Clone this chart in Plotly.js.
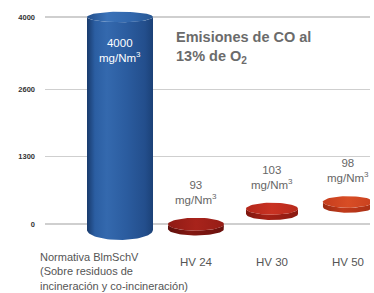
<!DOCTYPE html>
<html>
<head>
<meta charset="utf-8">
<script src="https://cdn.plot.ly/plotly-3.0.1.min.js"></script>
<style>html,body{margin:0;padding:0;background:#fff;}#chart{width:374px;height:293px;}</style>
</head>
<body>
<div id="chart"></div>
<script>
// ---- data ----
const categories = ['Normativa BlmSchV<br>(Sobre residuos de<br>incineración y co-incineración)', 'HV 24', 'HV 30', 'HV 50'];
const values = [4000, 93, 103, 98];
const valueLabels = ['4000', '93', '103', '98'];
const unitLabel = 'mg/Nm<sup>3</sup>';
const yTickVals = [0, 1300, 2600, 4000];
const yTickText = ['0', '1300', '2600', '4000'];
const chartTitle = '<b>Emisiones de CO al<br>13% de O<sub>2</sub></b>';

// ---- layout geometry (styles) ----
const W = 374, H = 293;
const M = {l: 45, r: 4, t: 6, b: 40};
const xRange = [-0.987, 3.29];
const yRange = [-560, 4212];
const pxPerX = (W - M.l - M.r) / (xRange[1] - xRange[0]);
const pxPerY = (H - M.t - M.b) / (yRange[1] - yRange[0]);
const halfWidthPx = [33, 28, 26, 25];
const capRatio = [0.16, 0.23, 0.23, 0.23];
const bottomRatio = [0.3, 0.23, 0.23, 0.23];
const floorLiftPx = [0, -5, 10, 17];   // perspective lift of the floor per category
const baseDropPx = [6, 0, 0, 0];       // perspective drop of the cylinder foot
const sideScales = [
  [[0,'#183a6c'],[0.12,'#2b5ea2'],[0.3,'#3469ae'],[0.6,'#2b5c9f'],[0.88,'#234e8c'],[1,'#1b4177']],
  [[0,'#5e0f0b'],[0.4,'#841812'],[1,'#6a110d']],
  [[0,'#7e170f'],[0.4,'#a62116'],[1,'#8a1a11']],
  [[0,'#9a2b12'],[0.4,'#c13a1b'],[1,'#a93015']]
];
const capScales = [
  [[0,'#234f8c'],[0.3,'#3a72b8'],[0.7,'#3166ab'],[1,'#275793']],
  [[0,'#8f1b15'],[0.5,'#a8231b'],[1,'#961d16']],
  [[0,'#b3271b'],[0.5,'#c93222'],[1,'#b82a1c']],
  [[0,'#c63d1d'],[0.5,'#d84d25'],[1,'#c9411f']]
];
const FONT = 'Liberation Sans, Arial, sans-serif';

function ellipsePts(cx, cy, a, b, t0, t1, n) {
  const xs = [], ys = [];
  for (let k = 0; k <= n; k++) {
    const t = t0 + (t1 - t0) * k / n;
    xs.push(cx + a * Math.cos(t));
    ys.push(cy + b * Math.sin(t));
  }
  return [xs, ys];
}

const traces = [];
const annotations = [];
values.forEach((v, i) => {
  const a = halfWidthPx[i] / pxPerX;
  const bTop = halfWidthPx[i] * capRatio[i] / pxPerY;
  const bBot = halfWidthPx[i] * bottomRatio[i] / pxPerY;
  const lift = floorLiftPx[i] / pxPerY;
  const y0 = 0 + lift - baseDropPx[i] / pxPerY, y1 = v + lift;
  // side body
  const top = ellipsePts(i, y1, a, bTop, Math.PI, 2 * Math.PI, 40);
  const bot = ellipsePts(i, y0, a, bBot, 2 * Math.PI, Math.PI, 40);
  const bx = [i - a].concat(top[0], [i + a], bot[0]);
  const by = [y0].concat(top[1], [y0], bot[1]);
  traces.push({
    x: bx, y: by, type: 'scatter', mode: 'lines', fill: 'toself',
    line: {width: 0, color: 'rgba(0,0,0,0)'},
    fillgradient: {type: 'horizontal', colorscale: sideScales[i]},
    hoverinfo: 'skip', showlegend: false
  });
  // top cap
  const cap = ellipsePts(i, y1, a, bTop, 0, 2 * Math.PI, 60);
  traces.push({
    x: cap[0], y: cap[1], type: 'scatter', mode: 'lines', fill: 'toself',
    line: {width: 0, color: 'rgba(0,0,0,0)'},
    fillgradient: {type: 'horizontal', colorscale: capScales[i]},
    hoverinfo: 'skip', showlegend: false
  });
  if (i === 0) {
    annotations.push({
      x: i, y: v, xref: 'x', yref: 'y', text: valueLabels[i] + '<br>' + unitLabel,
      showarrow: false, yanchor: 'top', yshift: -18,
      font: {family: FONT, size: 11.5, color: '#ffffff'}
    });
  } else {
    annotations.push({
      x: i, y: v, xref: 'x', yref: 'y', text: valueLabels[i] + '<br>' + unitLabel,
      showarrow: false, yanchor: 'bottom', yshift: 16 + floorLiftPx[i],
      font: {family: FONT, size: 11.5, color: '#666666'}
    });
  }
});

// first category label (left aligned, multi-line)
annotations.push({
  x: 0, y: 0, xref: 'x', yref: 'paper', text: categories[0],
  showarrow: false, xanchor: 'left', yanchor: 'top', align: 'left', xshift: -82, yshift: 4,
  font: {family: FONT, size: 11, color: '#555555'}
});
// chart title
annotations.push({
  x: 0.398, y: 0.915, xref: 'paper', yref: 'paper', text: chartTitle,
  showarrow: false, xanchor: 'left', yanchor: 'top', align: 'left',
  font: {family: FONT, size: 14.5, color: '#6b6b6b'}
});

const layout = {
  width: W, height: H,
  margin: M,
  paper_bgcolor: '#ffffff', plot_bgcolor: '#ffffff',
  showlegend: false,
  xaxis: {
    range: xRange, showgrid: false, zeroline: false, showline: false,
    tickmode: 'array', tickvals: [1, 2, 3], ticktext: categories.slice(1),
    ticks: '', ticklabelstandoff: 0,
    tickfont: {family: FONT, size: 11.5, color: '#555555'},
    fixedrange: true
  },
  yaxis: {
    range: yRange, showgrid: true, gridcolor: '#cfcfcf', gridwidth: 1.5,
    zeroline: false, showline: false,
    tickmode: 'array', tickvals: yTickVals, ticktext: yTickText,
    ticks: '', ticklabelstandoff: 9,
    tickfont: {family: FONT, size: 7.5, color: '#333333', weight: 'bold'},
    fixedrange: true
  },
  annotations: annotations
};

Plotly.newPlot('chart', traces, layout, {displayModeBar: false, staticPlot: true});
</script>
</body>
</html>
